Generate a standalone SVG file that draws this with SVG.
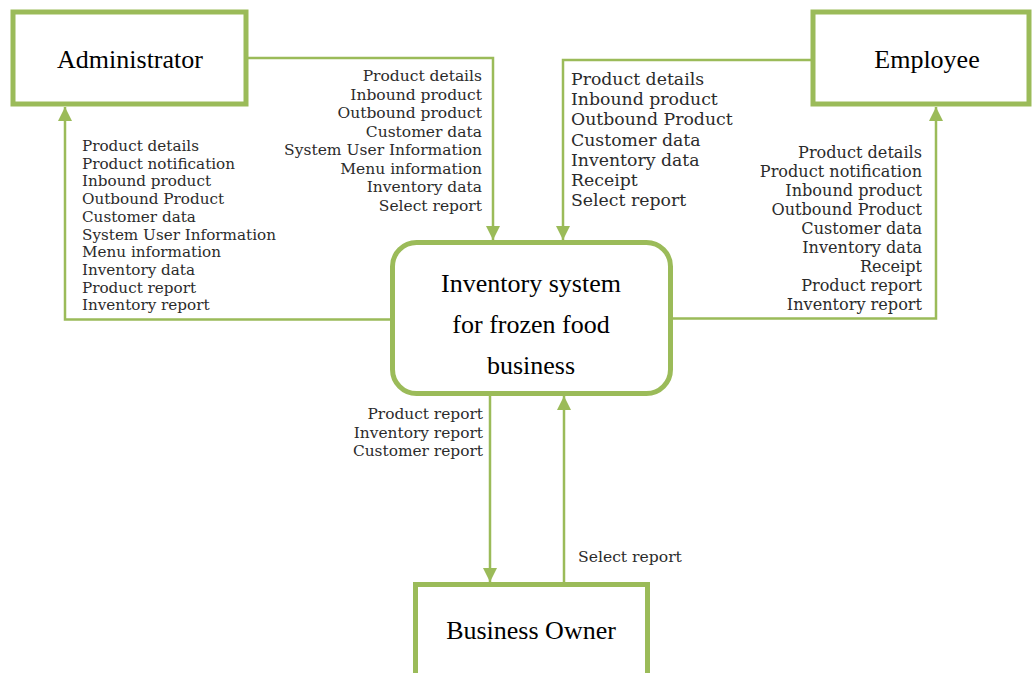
<svg xmlns="http://www.w3.org/2000/svg" width="1034" height="673" viewBox="0 0 1034 673">
<style>
.box{fill:#fff;stroke:#9BBB59;stroke-width:5}
.flow{fill:none;stroke:#9BBB59;stroke-width:2.5}
.node{font-family:"Liberation Serif","Times New Roman",serif;font-size:26px;fill:#000;text-anchor:middle}
.lbl{font-family:"DejaVu Serif","Liberation Serif",serif;fill:#2b2b2b}
</style>
<defs>
<marker id="arr" markerUnits="userSpaceOnUse" markerWidth="16" markerHeight="16" viewBox="0 0 16 16" refX="15" refY="8" orient="auto">
<path d="M1,1 L15,8 L1,15 Z" fill="#9BBB59"/>
</marker>
</defs>
<rect width="1034" height="673" fill="#fff"/>
<g id="connectors">
<polyline class="flow" points="248,58 493,58 493,240" marker-end="url(#arr)"/>
<polyline class="flow" points="811,60 563,60 563,240" marker-end="url(#arr)"/>
<polyline class="flow" points="390,319.5 65,319.5 65,107" marker-end="url(#arr)"/>
<polyline class="flow" points="673,318.5 936,318.5 936,107" marker-end="url(#arr)"/>
<line class="flow" x1="490" y1="396" x2="490" y2="582" marker-end="url(#arr)"/>
<line class="flow" x1="564" y1="582" x2="564" y2="396" marker-end="url(#arr)"/>
</g>
<g id="labels">
<text class="lbl" font-size="15.2"><tspan x="82" y="151">Product details</tspan><tspan x="82" y="168.7">Product notification</tspan><tspan x="82" y="186.4">Inbound product</tspan><tspan x="82" y="204.1">Outbound Product</tspan><tspan x="82" y="221.8">Customer data</tspan><tspan x="82" y="239.5">System User Information</tspan><tspan x="82" y="257.2">Menu information</tspan><tspan x="82" y="274.9">Inventory data</tspan><tspan x="82" y="292.6">Product report</tspan><tspan x="82" y="310.3">Inventory report</tspan></text>
<text class="lbl" font-size="15.5" text-anchor="end"><tspan x="482" y="81">Product details</tspan><tspan x="482" y="99.6">Inbound product</tspan><tspan x="482" y="118.1">Outbound product</tspan><tspan x="482" y="136.7">Customer data</tspan><tspan x="482" y="155.3">System User Information</tspan><tspan x="482" y="173.9">Menu information</tspan><tspan x="482" y="192.4">Inventory data</tspan><tspan x="482" y="211">Select report</tspan></text>
<text class="lbl" font-size="17.3"><tspan x="571" y="85">Product details</tspan><tspan x="571" y="105.2">Inbound product</tspan><tspan x="571" y="125.4">Outbound Product</tspan><tspan x="571" y="145.6">Customer data</tspan><tspan x="571" y="165.8">Inventory data</tspan><tspan x="571" y="186">Receipt</tspan><tspan x="571" y="206.2">Select report</tspan></text>
<text class="lbl" font-size="16.1" text-anchor="end"><tspan x="922" y="157.5">Product details</tspan><tspan x="922" y="176.6">Product notification</tspan><tspan x="922" y="195.7">Inbound product</tspan><tspan x="922" y="214.8">Outbound Product</tspan><tspan x="922" y="233.9">Customer data</tspan><tspan x="922" y="253">Inventory data</tspan><tspan x="922" y="272.1">Receipt</tspan><tspan x="922" y="291.2">Product report</tspan><tspan x="922" y="310.3">Inventory report</tspan></text>
<text class="lbl" font-size="15.4" text-anchor="end"><tspan x="483" y="419">Product report</tspan><tspan x="483" y="437.5">Inventory report</tspan><tspan x="483" y="456">Customer report</tspan></text>
<text class="lbl" font-size="15.6" x="578" y="562">Select report</text>
</g>
<g id="administrator">
<rect class="box" x="13" y="12" width="233" height="92"/>
<text class="node" x="130" y="68">Administrator</text>
</g>
<g id="employee">
<rect class="box" x="813" y="12" width="216" height="92"/>
<text class="node" x="927" y="68">Employee</text>
</g>
<g id="system">
<rect class="box" x="392.5" y="242.5" width="278" height="151" rx="24"/>
<text class="node" x="531" y="292">Inventory system</text>
<text class="node" x="531" y="333">for frozen food</text>
<text class="node" x="531" y="374">business</text>
</g>
<g id="business-owner">
<rect class="box" x="415.5" y="584.5" width="232" height="120"/>
<text class="node" x="531" y="639">Business Owner</text>
</g>
</svg>
